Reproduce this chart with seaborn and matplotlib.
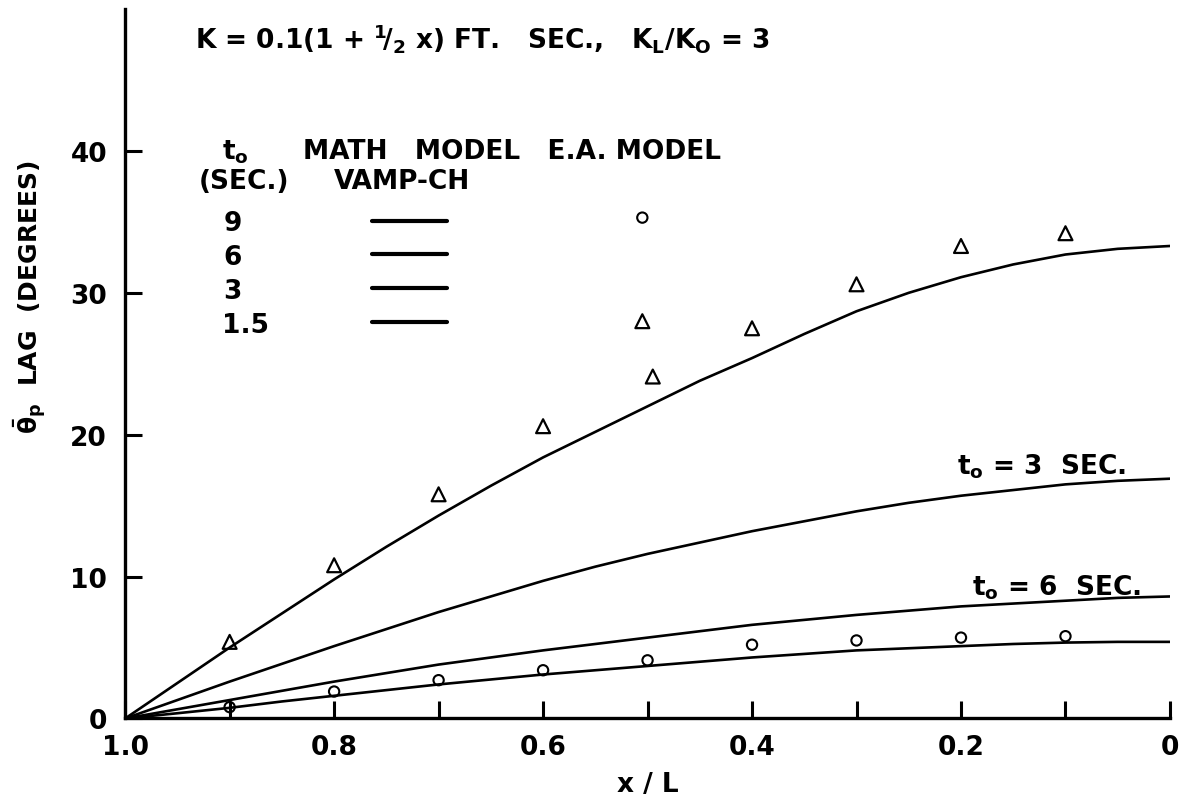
import numpy as np
import pandas as pd
import seaborn as sns
import matplotlib.pyplot as plt

# Distance from the far end, x / L (axis runs from 1.0 down to 0)
x_pos = [1.0, 0.95, 0.9, 0.85, 0.8, 0.75, 0.7, 0.65, 0.6, 0.55, 0.5,
         0.45, 0.4, 0.35, 0.3, 0.25, 0.2, 0.15, 0.1, 0.05, 0.0]

# VAMP-CH math model: phase lag (degrees) for each tidal period t0 (sec)
lag_t9 = [0.0, 0.37, 0.75, 1.2, 1.6, 2.0, 2.4, 2.75, 3.1, 3.4, 3.7,
          4.0, 4.3, 4.55, 4.8, 4.95, 5.1, 5.25, 5.35, 5.4, 5.4]
lag_t6 = [0.0, 0.65, 1.3, 1.95, 2.6, 3.2, 3.8, 4.3, 4.8, 5.25, 5.7,
          6.15, 6.6, 6.95, 7.3, 7.6, 7.9, 8.1, 8.3, 8.5, 8.6]
lag_t3 = [0.0, 1.3, 2.6, 3.85, 5.1, 6.3, 7.5, 8.6, 9.7, 10.7, 11.6,
          12.4, 13.2, 13.9, 14.6, 15.2, 15.7, 16.1, 16.5, 16.75, 16.9]
lag_t1p5 = [0.0, 2.5, 5.0, 7.4, 9.8, 12.1, 14.3, 16.4, 18.4, 20.2, 22.0,
            23.8, 25.4, 27.1, 28.7, 30.0, 31.1, 32.0, 32.7, 33.1, 33.3]
periods = ["9", "6", "3", "1.5"]

# E.A. model measurements
tri_x = [0.9, 0.8, 0.7, 0.6, 0.495, 0.505, 0.4, 0.3, 0.2, 0.1]
tri_y = [5.4, 10.8, 15.8, 20.6, 24.1, 28.0, 27.5, 30.6, 33.3, 34.2]
circ_x = [0.9, 0.8, 0.7, 0.6, 0.5, 0.4, 0.3, 0.2, 0.1, 0.505]
circ_y = [0.8, 1.9, 2.7, 3.4, 4.1, 5.2, 5.5, 5.7, 5.8, 35.3]

x_ticks = [1.0, 0.9, 0.8, 0.7, 0.6, 0.5, 0.4, 0.3, 0.2, 0.1, 0.0]
x_ticklabels = ["1.0", "", "0.8", "", "0.6", "", "0.4", "", "0.2", "", "0"]
y_ticks = [0, 10, 20, 30, 40]

sns.set_theme(style="ticks")
plt.rcParams["font.family"] = ["DejaVu Sans"]
plt.rcParams["font.weight"] = "bold"
plt.rcParams["mathtext.fontset"] = "dejavusans"
plt.rcParams["mathtext.default"] = "bf"
for key in ("text.color", "axes.labelcolor", "xtick.color", "ytick.color",
            "axes.edgecolor"):
    plt.rcParams[key] = "black"

FS = 19

curves = pd.DataFrame({
    "x": x_pos * 4,
    "lag": lag_t9 + lag_t6 + lag_t3 + lag_t1p5,
    "t0": sum([[p] * len(x_pos) for p in periods], []),
})

fig = plt.figure(figsize=(11.92, 8.03), dpi=100)
ax = fig.add_axes([0.105, 0.104, 0.8765, 0.8835])

sns.lineplot(data=curves, x="x", y="lag", hue="t0", hue_order=periods,
             palette=["black"] * 4, linewidth=1.9, legend=False, ax=ax,
             sort=True, estimator=None)

sns.scatterplot(x=tri_x, y=tri_y, marker="^", s=100, facecolor="none",
                edgecolor="black", linewidth=1.6, ax=ax, zorder=3)
sns.scatterplot(x=circ_x, y=circ_y, marker="o", s=55, facecolor="none",
                edgecolor="black", linewidth=1.5, ax=ax, zorder=3)
for coll in ax.collections:
    coll.set_facecolor("none")
    coll.set_edgecolor("black")

ax.set_xlim(1.0, 0.0)
ax.set_ylim(0, 50)
ax.set_xticks(x_ticks)
ax.set_xticklabels(x_ticklabels)
ax.set_yticks(y_ticks)
sns.despine(ax=ax)
for side in ("left", "bottom"):
    ax.spines[side].set_linewidth(2.4)
ax.tick_params(axis="both", direction="in", length=12, width=2.2,
               labelsize=FS)
ax.tick_params(axis="y", pad=13)
ax.tick_params(axis="x", pad=11)
for lbl in ax.get_xticklabels() + ax.get_yticklabels():
    lbl.set_fontweight("bold")

ax.set_xlabel("x / L", fontsize=FS, fontweight="bold", labelpad=8)
ax.set_ylabel(r"$\bar{\theta}_p$  LAG  (DEGREES)", fontsize=18,
              fontweight="bold")
ax.yaxis.set_label_coords(-0.074, 0.595)

# Header and legend table
ax.text(0.933, 48.0, r"K = 0.1(1 + $^1\!/_2$ x) FT.   SEC.,   K$_L$/K$_O$ = 3",
        fontsize=FS, fontweight="bold", va="center", ha="left")
ax.text(0.907, 40.0, r"t$_o$", fontsize=FS, fontweight="bold", va="center")
ax.text(0.93, 37.9, "(SEC.)", fontsize=FS, fontweight="bold", va="center")
ax.text(0.830, 40.0, "MATH   MODEL   E.A. MODEL", fontsize=FS,
        fontweight="bold", va="center")
ax.text(0.800, 37.9, "VAMP-CH", fontsize=FS, fontweight="bold", va="center")

# Left-aligned period column: pad the single digits to the width of "1.5"
legend_labels = [p if len(p) > 1 else p + "   " for p in periods]
leg = ax.legend(handles=ax.lines[:4], labels=legend_labels, loc="upper left",
                bbox_to_anchor=(0.093, 0.717), frameon=False, fontsize=FS,
                markerfirst=False, handlelength=2.85, handletextpad=3.9,
                labelspacing=0.3, borderpad=0, borderaxespad=0)
for t in leg.get_texts():
    t.set_fontweight("bold")
for h in leg.get_lines():
    h.set_linewidth(3.0)

ax.text(0.204, 17.8, r"t$_o$ = 3  SEC.", fontsize=FS, fontweight="bold",
        va="center")
ax.text(0.189, 9.3, r"t$_o$ = 6  SEC.", fontsize=FS, fontweight="bold",
        va="center")

fig.savefig("out.png", dpi=100)
